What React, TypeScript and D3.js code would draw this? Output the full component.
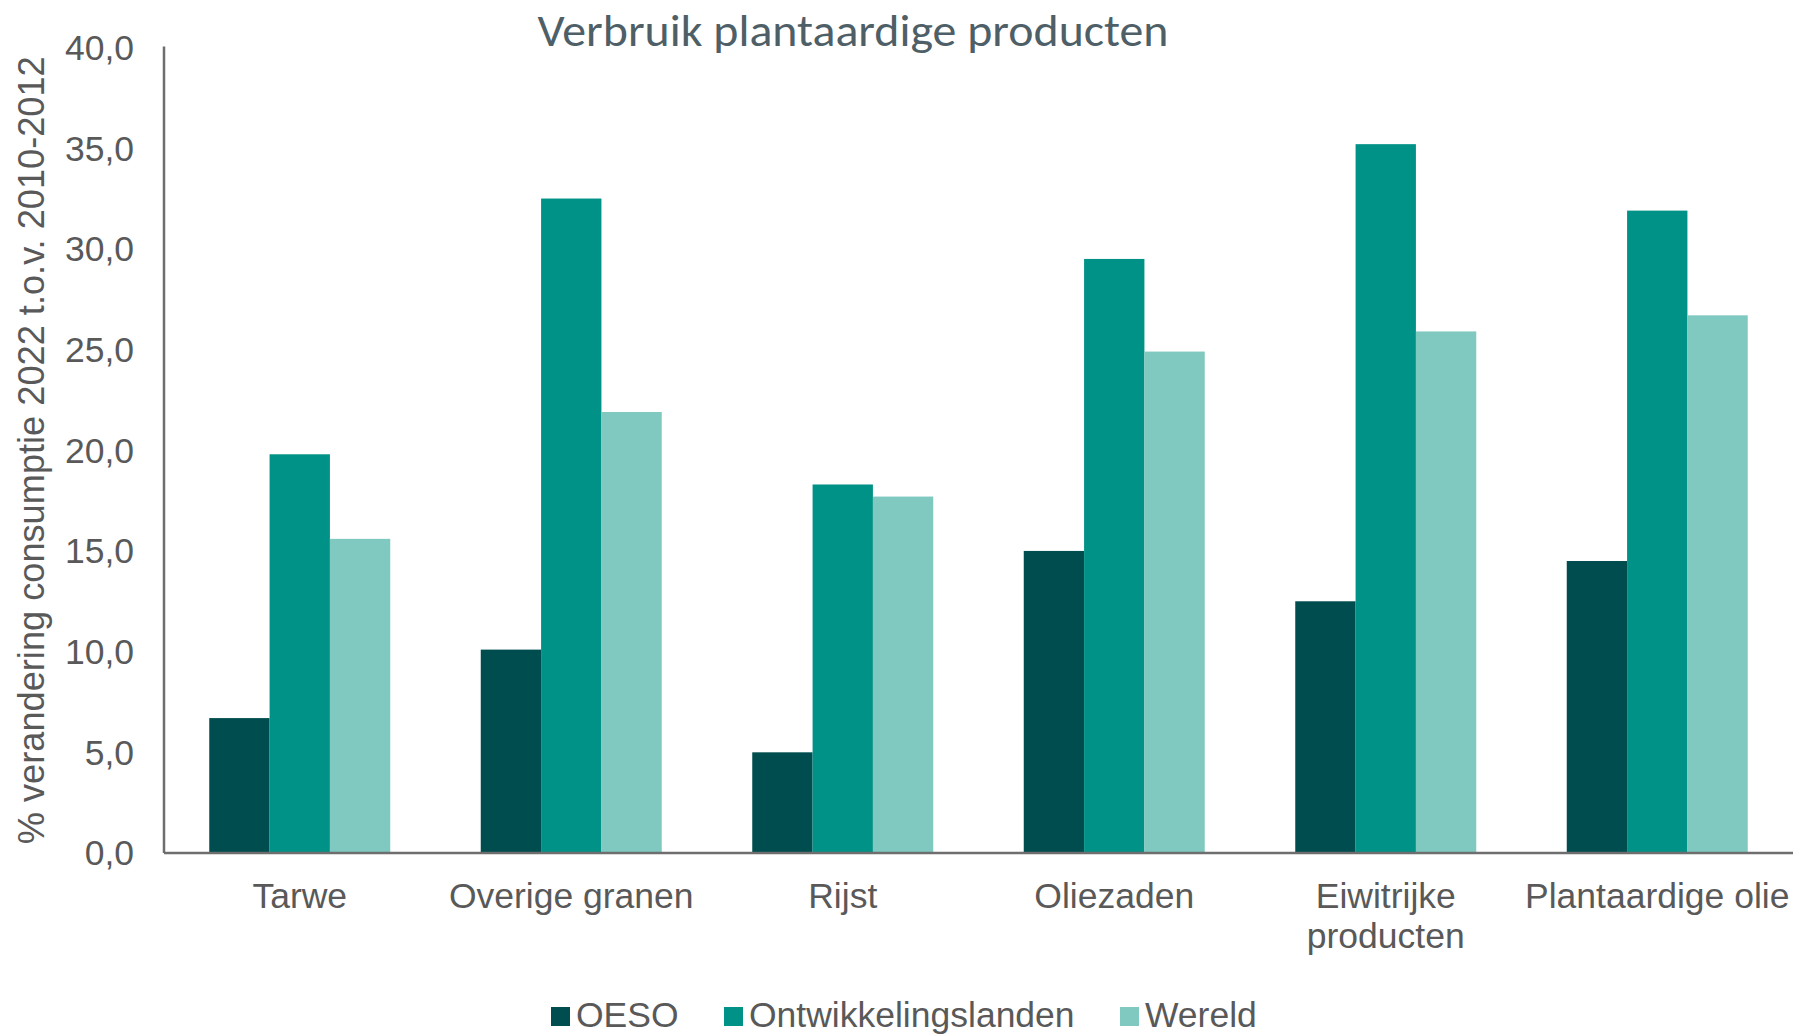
import React from "react";
import * as d3 from "d3";

const categories: string[][] = [
  ["Tarwe"],
  ["Overige granen"],
  ["Rijst"],
  ["Oliezaden"],
  ["Eiwitrijke", "producten"],
  ["Plantaardige olie"],
];
const seriesNames = ["OESO", "Ontwikkelingslanden", "Wereld"];
const oeso = [6.7, 10.1, 5.0, 15.0, 12.5, 14.5];
const ontwikkelingslanden = [19.8, 32.5, 18.3, 29.5, 35.2, 31.9];
const wereld = [15.6, 21.9, 17.7, 24.9, 25.9, 26.7];
const yTicks = [0, 5, 10, 15, 20, 25, 30, 35, 40];
const colors = ["#004D4F", "#009286", "#80C9C1"];

const W = 1796;
const H = 1036;
const left = 164;
const right = 1793;
const top = 47.5;
const bottom = 853;
const font = "'Liberation Sans', Arial, sans-serif";
const textColor = "#595959";
const fs = 35.5;

export default function App() {
  const series = [oeso, ontwikkelingslanden, wereld];
  const keys = categories.map((c) => c.join(" "));
  const x = d3.scaleBand<string>().domain(keys).range([left, right]).padding(0);
  const bw = x.bandwidth();
  const inner = d3
    .scaleBand<string>()
    .domain(seriesNames)
    .range([bw / 6, (bw * 5) / 6])
    .padding(0);
  const y = d3.scaleLinear().domain([0, 40]).range([bottom, top]);
  const fmt = (v: number) => v.toFixed(1).replace(".", ",");

  const legendItems = [
    { sx: 551, tx: 576 },
    { sx: 724, tx: 749 },
    { sx: 1120, tx: 1145 },
  ];

  return (
    <svg
      width={W}
      height={H}
      style={{ position: "absolute", left: 0, top: 0, background: "#fff" }}
    >
      <text
        x={853}
        y={46}
        textAnchor="middle"
        fontFamily="Carlito, Calibri, Lato, sans-serif"
        fontSize={45}
        textLength={631}
        lengthAdjust="spacingAndGlyphs"
        fill="#4F5F67"
      >
        Verbruik plantaardige producten
      </text>

      {series.map((vals, si) =>
        vals.map((v, ci) => (
          <rect
            key={`${si}-${ci}`}
            x={(x(keys[ci]) ?? 0) + (inner(seriesNames[si]) ?? 0)}
            y={y(v)}
            width={inner.bandwidth()}
            height={y(0) - y(v)}
            fill={colors[si]}
          />
        ))
      )}

      <line x1={left} x2={left} y1={top - 1} y2={bottom} stroke="#6E6E6E" strokeWidth={2.5} />
      <line x1={left} x2={right} y1={bottom} y2={bottom} stroke="#6E6E6E" strokeWidth={2.5} />

      {yTicks.map((t) => (
        <text
          key={t}
          x={134}
          y={y(t)}
          dy="0.35em"
          textAnchor="end"
          fontFamily={font}
          fontSize={fs}
          fill={textColor}
        >
          {fmt(t)}
        </text>
      ))}

      {categories.map((lines, ci) => (
        <text
          key={ci}
          textAnchor="middle"
          fontFamily={font}
          fontSize={fs}
          fill={textColor}
        >
          {lines.map((l, li) => (
            <tspan key={li} x={(x(keys[ci]) ?? 0) + bw / 2} y={908 + li * 40}>
              {l}
            </tspan>
          ))}
        </text>
      ))}

      <text
        transform={`translate(44, ${(top + bottom) / 2}) rotate(-90)`}
        textAnchor="middle"
        fontFamily={font}
        fontSize={36.2}
        fill={textColor}
      >
        % verandering consumptie 2022 t.o.v. 2010-2012
      </text>

      {seriesNames.map((name, i) => (
        <g key={name}>
          <rect x={legendItems[i].sx} y={1007} width={19} height={19} fill={colors[i]} />
          <text
            x={legendItems[i].tx}
            y={1027}
            fontFamily={font}
            fontSize={fs}
            fill={textColor}
          >
            {name}
          </text>
        </g>
      ))}
    </svg>
  );
}
